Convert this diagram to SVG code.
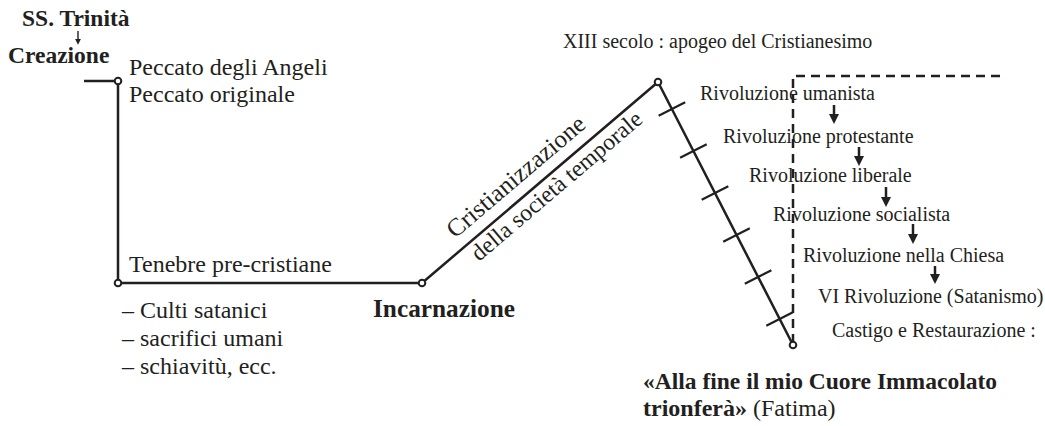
<svg xmlns="http://www.w3.org/2000/svg" width="1045" height="426" viewBox="0 0 1045 426">
  <style>
    text { font-family: "Liberation Serif", "Times New Roman", serif; fill: #231f20; }
    .r { font-size: 24px; }
    .b { font-size: 23.5px; font-weight: bold; }
    .s { font-size: 20px; }
    .line { fill: none; stroke: #231f20; stroke-width: 2.5; stroke-linejoin: round; }
    .tick { stroke: #231f20; stroke-width: 2.2; }
    .dash { fill: none; stroke: #231f20; stroke-width: 2.5; stroke-dasharray: 9 6; }
    .dot { fill: #fff; stroke: #231f20; stroke-width: 2; }
    .arr { stroke: #231f20; stroke-width: 2.5; marker-end: url(#ah); }
    .arr-s { stroke: #231f20; stroke-width: 1.4; marker-end: url(#ahs); }
  </style>
  <defs>
    <marker id="ah" viewBox="0 0 10 10" refX="2" refY="5" markerWidth="10" markerHeight="10" markerUnits="userSpaceOnUse" orient="auto">
      <path d="M0,0 L10,5 L0,10 z" fill="#231f20"/>
    </marker>
    <marker id="ahs" viewBox="0 0 10 10" refX="2" refY="5" markerWidth="6" markerHeight="6" markerUnits="userSpaceOnUse" orient="auto">
      <path d="M0,0 L10,5 L0,10 z" fill="#231f20"/>
    </marker>
  </defs>

  <!-- connectors: the historical line, its ticks, the dashed frame and the arrows -->
  <g id="connectors">
    <path class="line" d="M84,81 H118 V283 H422 L658,82 L793,345"/>
    <g id="ticks">
      <line class="tick" x1="658.6" y1="115.8" x2="685.2" y2="102.2"/>
      <line class="tick" x1="680.1" y1="157.8" x2="706.7" y2="144.2"/>
      <line class="tick" x1="701.7" y1="199.8" x2="728.3" y2="186.2"/>
      <line class="tick" x1="723.2" y1="241.8" x2="749.8" y2="228.2"/>
      <line class="tick" x1="744.8" y1="283.8" x2="771.4" y2="270.2"/>
      <line class="tick" x1="766.3" y1="325.8" x2="792.9" y2="312.2"/>
    </g>
    <path class="dash" d="M793,343 V76 H1003"/>
    <line class="arr-s" x1="78" y1="31" x2="78" y2="40"/>
    <line class="arr" x1="834" y1="105" x2="834" y2="116"/>
    <line class="arr" x1="859" y1="147" x2="859" y2="158"/>
    <line class="arr" x1="886" y1="187" x2="886" y2="199"/>
    <line class="arr" x1="913" y1="224" x2="913" y2="236"/>
    <line class="arr" x1="935" y1="266" x2="935" y2="276"/>
  </g>

  <!-- points on the line -->
  <g id="dots">
    <circle class="dot" cx="118" cy="81" r="3.3"/>
    <circle class="dot" cx="118" cy="283" r="3.3"/>
    <circle class="dot" cx="422" cy="283" r="3.3"/>
    <circle class="dot" cx="658" cy="82" r="3.3"/>
    <circle class="dot" cx="793" cy="345" r="3.3"/>
  </g>

  <g id="trinita">
    <text class="b" x="22" y="26">SS. Trinità</text>
  </g>
  <g id="creazione">
    <text class="b" x="8" y="63">Creazione</text>
  </g>
  <g id="peccato">
    <text class="r" x="129" y="75">Peccato degli Angeli</text>
    <text class="r" x="129" y="102">Peccato originale</text>
  </g>
  <g id="tenebre">
    <text class="r" x="129" y="272">Tenebre pre-cristiane</text>
  </g>
  <g id="mali">
    <text class="r" x="122" y="318">– Culti satanici</text>
    <text class="r" x="122" y="346">– sacrifici umani</text>
    <text class="r" x="122" y="374">– schiavitù, ecc.</text>
  </g>
  <g id="incarnazione">
    <text class="b" x="373" y="317" style="font-size:25.3px">Incarnazione</text>
  </g>
  <g id="cristianizzazione">
    <text style="font-size:25px" transform="translate(455,239) rotate(-40.4)">Cristianizzazione</text>
    <text style="font-size:23.5px" transform="translate(479,262) rotate(-40.4)">della società temporale</text>
  </g>
  <g id="apogeo">
    <text class="s" x="563" y="48">XIII secolo : apogeo del Cristianesimo</text>
  </g>
  <g id="rivoluzioni">
    <text class="s" x="700" y="100">Rivoluzione umanista</text>
    <text class="s" x="723" y="143">Rivoluzione protestante</text>
    <text class="s" x="749" y="182">Rivoluzione liberale</text>
    <text class="s" x="773" y="221">Rivoluzione socialista</text>
    <text class="s" x="803" y="262">Rivoluzione nella Chiesa</text>
    <text class="s" x="818" y="303">VI Rivoluzione (Satanismo)</text>
    <text class="s" x="832" y="337">Castigo e Restaurazione :</text>
  </g>
  <g id="fatima">
    <text class="b" x="643" y="389">«Alla fine il mio Cuore Immacolato</text>
    <text class="r" x="643" y="416"><tspan font-weight="bold">trionferà»</tspan> (Fatima)</text>
  </g>
</svg>
